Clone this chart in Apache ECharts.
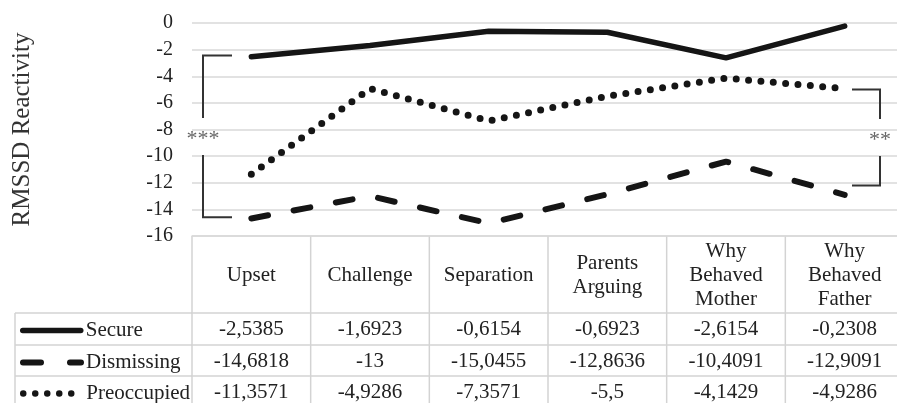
<!DOCTYPE html>
<html>
<head>
<meta charset="utf-8">
<script src="https://cdn.jsdelivr.net/npm/echarts@6/dist/echarts.min.js"></script>
<style>
  html, body { margin: 0; padding: 0; background: #ffffff; }
  #chart { width: 897px; height: 403px; }
</style>
</head>
<body>
<div id="chart"></div>
<script>
// Conditions (column headers of the data table)
const categories = ['Upset', 'Challenge', 'Separation', 'Parents\nArguing', 'Why\nBehaved\nMother', 'Why\nBehaved\nFather'];

// RMSSD reactivity per attachment group
const secure      = [-2.5385, -1.6923, -0.6154, -0.6923, -2.6154, -0.2308];
const dismissing  = [-14.6818, -13, -15.0455, -12.8636, -10.4091, -12.9091];
const preoccupied = [-11.3571, -4.9286, -7.3571, -5.5, -4.1429, -4.9286];

const seriesNames = ['Secure', 'Dismissing', 'Preoccupied'];
const seriesValues = [secure, dismissing, preoccupied];

// Value axis range and step
const yMin = -16;
const yMax = 0;
const yStep = 2;

// Significance brackets: [top value, bottom value, label]
const bracketLeft  = [-2.45, -14.6, '***'];
const bracketRight = [-5.0, -12.2, '**'];

const FONT = "'Liberation Serif', 'Times New Roman', serif";
const INK = '#151515';
const GRID_LINE = '#d9d9d9';
const TABLE_LINE = '#d3d3d3';

const gridLeft = 192, gridTop = 23, gridWidth = 712, gridHeight = 213;
const gridBottomY = gridTop + gridHeight;
const rowOffsets = [77, 109, 140];      // table row borders below the axis
const rowHeight = 31;
const tableBottom = 403;
const legendColLeft = 15;

const fmt = v => String(v).replace('.', ',');

const lineStyles = [
  { color: INK, width: 5.5, cap: 'round', join: 'round' },
  { color: INK, width: 6, cap: 'round', type: [17, 26] },
  { color: INK, width: 7, cap: 'round', type: [0, 12.4] }
];
const legendLineStyles = [
  { color: INK, width: 5.5, cap: 'round' },
  { color: INK, width: 6, cap: 'round', type: [18, 29] },
  { color: INK, width: 6.5, cap: 'round', type: [0, 12] }
];

const xAxes = [{
  type: 'category',
  gridIndex: 0,
  position: 'bottom',
  data: categories,
  boundaryGap: true,
  axisLine: { show: true, onZero: false, lineStyle: { color: GRID_LINE, width: 1.5 } },
  axisTick: { show: false },
  axisLabel: {
    interval: 0, margin: 39, verticalAlign: 'middle',
    fontFamily: FONT, fontSize: 21, lineHeight: 24, color: '#222'
  },
  splitLine: { show: false }
}];

seriesValues.forEach((vals, k) => {
  xAxes.push({
    type: 'category',
    gridIndex: 0,
    position: 'bottom',
    offset: rowOffsets[k],
    data: categories,
    boundaryGap: true,
    axisLine: { show: true, onZero: false, lineStyle: { color: TABLE_LINE, width: 1.5 } },
    axisTick: { show: false },
    axisLabel: {
      interval: 0, margin: 16, verticalAlign: 'middle',
      fontFamily: FONT, fontSize: 21, color: '#222',
      formatter: (v, i) => fmt(vals[i])
    },
    splitLine: { show: false }
  });
});

// One legend per table row, placed in the first column
const legends = seriesNames.map((n, k) => ({
  orient: 'horizontal',
  left: legendColLeft + 5,
  top: gridBottomY + rowOffsets[k] + rowHeight / 2 - 9,
  padding: 0,
  itemWidth: 58, itemHeight: 14,
  selectedMode: false,
  itemStyle: { opacity: 0 },
  textStyle: { fontFamily: FONT, fontSize: 21, lineHeight: 22, color: '#222' },
  data: [{ name: n, lineStyle: legendLineStyles[k], itemStyle: { opacity: 0 } }]
}));

const option = {
  backgroundColor: '#ffffff',
  animation: false,
  grid: {
    left: gridLeft, top: gridTop, width: gridWidth, height: gridHeight,
    containLabel: false, outerBoundsMode: 'none'
  },
  legend: legends,
  xAxis: xAxes,
  yAxis: {
    type: 'value',
    min: yMin, max: yMax, interval: yStep,
    name: 'RMSSD Reactivity',
    nameLocation: 'middle',
    nameRotate: 90,
    nameGap: 157,
    nameTextStyle: { fontFamily: FONT, fontSize: 25, color: '#333' },
    axisLine: { show: false },
    axisTick: { show: false },
    axisLabel: { fontFamily: FONT, fontSize: 20, color: '#222', margin: 19 },
    splitLine: { show: true, lineStyle: { color: GRID_LINE, width: 1.5 } }
  },
  series: seriesValues.map((vals, k) => ({
    name: seriesNames[k],
    type: 'line',
    data: vals,
    symbol: 'none',
    silent: true,
    itemStyle: { color: INK },
    lineStyle: lineStyles[k],
    z: 3
  }))
};

const chart = echarts.init(document.getElementById('chart'), null, { renderer: 'canvas' });
chart.setOption(option);

const px = i => chart.convertToPixel({ xAxisIndex: 0 }, i);
const py = v => chart.convertToPixel({ yAxisIndex: 0 }, v);
const graphics = [];
const tableStroke = { stroke: TABLE_LINE, lineWidth: 1.5 };

// Column dividers of the table, at the boundaries between categories
const half = (px(1) - px(0)) / 2;
for (let i = 0; i <= categories.length; i++) {
  const x = i < categories.length ? px(i) - half : px(categories.length - 1) + half;
  graphics.push({ type: 'line', shape: { x1: x, y1: gridBottomY, x2: x, y2: tableBottom }, style: tableStroke });
}
// Row borders and left edge of the legend column
rowOffsets.forEach(off => {
  const y = gridBottomY + off;
  graphics.push({ type: 'line', shape: { x1: legendColLeft, y1: y, x2: gridLeft, y2: y }, style: tableStroke });
});
graphics.push({ type: 'line', shape: { x1: legendColLeft, y1: gridBottomY + rowOffsets[0], x2: legendColLeft, y2: tableBottom }, style: tableStroke });

// Significance brackets
function bracket(b, xv, xArm, labelX) {
  const yt = py(b[0]), yb = py(b[1]);
  const mid = (yt + yb) / 2;
  const gap = 18.5;
  const st = { stroke: '#333', lineWidth: 2, fill: null };
  graphics.push({ type: 'polyline', shape: { points: [[xArm, yt], [xv, yt], [xv, mid - gap]] }, style: st, z: 5 });
  graphics.push({ type: 'polyline', shape: { points: [[xv, mid + gap], [xv, yb], [xArm, yb]] }, style: st, z: 5 });
  graphics.push({ type: 'text', x: labelX, y: mid + 3, style: { text: b[2], fontFamily: FONT, fontSize: 22, fill: '#666', align: 'center', verticalAlign: 'middle' }, z: 5 });
}
bracket(bracketLeft, gridLeft + 11, gridLeft + 40, gridLeft + 11);
bracket(bracketRight, 880, 852, 880);

chart.setOption({ graphic: graphics });
</script>
</body>
</html>
